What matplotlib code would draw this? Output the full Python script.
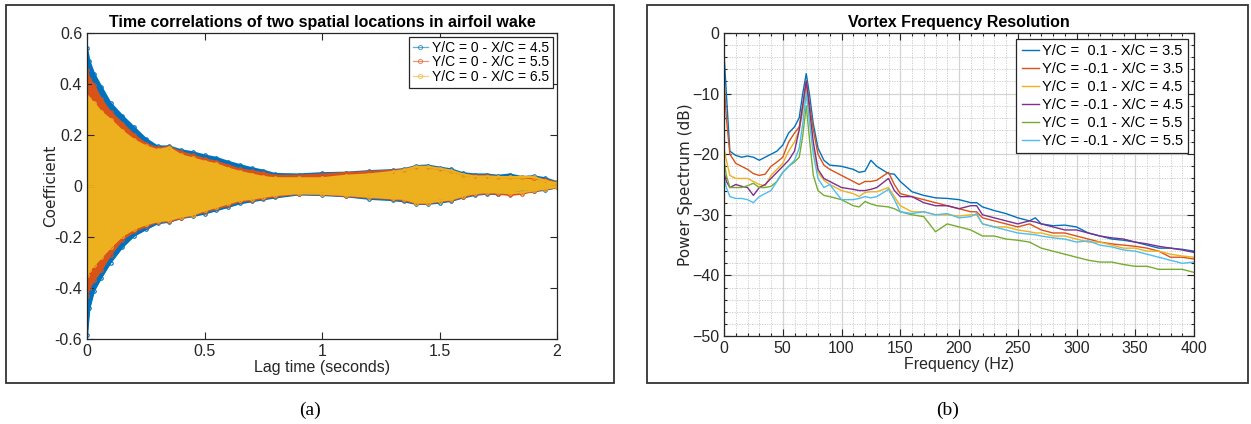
import numpy as np
import matplotlib
matplotlib.use("Agg")
import matplotlib.pyplot as plt
from matplotlib.patches import Rectangle
from matplotlib.ticker import MultipleLocator

NARROW = ["Liberation Sans Narrow", "Liberation Sans", "DejaVu Sans"]
WIDE = ["DejaVu Sans"]

# ---------------- (a) correlation envelopes ----------------
lag_t = [0, 0.01, 0.03, 0.06, 0.1, 0.15, 0.2, 0.25, 0.3, 0.35, 0.4, 0.45, 0.5,
         0.55, 0.6, 0.65, 0.7, 0.75, 0.8, 0.9, 1.0, 1.1, 1.2, 1.3, 1.35, 1.4,
         1.45, 1.5, 1.55, 1.6, 1.65, 1.7, 1.75, 1.8, 1.85, 1.9, 1.95, 2.0]

corr_labels = ["Y/C = 0 - X/C = 4.5", "Y/C = 0 - X/C = 5.5", "Y/C = 0 - X/C = 6.5"]

upper_45 = [0.54, 0.49, 0.44, 0.39, 0.325, 0.275, 0.23, 0.185, 0.155, 0.155, 0.14,
            0.132, 0.12, 0.11, 0.095, 0.082, 0.07, 0.06, 0.047, 0.045, 0.05, 0.052,
            0.058, 0.062, 0.066, 0.078, 0.08, 0.072, 0.065, 0.05, 0.045, 0.045, 0.04,
            0.045, 0.035, 0.038, 0.03, 0.015]
lower_45 = [-0.585, -0.48, -0.41, -0.36, -0.3, -0.24, -0.195, -0.17, -0.146, -0.14,
            -0.126, -0.118, -0.108, -0.095, -0.082, -0.068, -0.06, -0.052, -0.045,
            -0.033, -0.035, -0.04, -0.05, -0.055, -0.06, -0.07, -0.07, -0.065, -0.058,
            -0.045, -0.035, -0.03, -0.032, -0.03, -0.025, -0.02, -0.015, -0.005]

upper_55 = [0.455, 0.42, 0.395, 0.34, 0.29, 0.245, 0.2, 0.165, 0.148, 0.152, 0.132,
            0.12, 0.105, 0.095, 0.08, 0.065, 0.058, 0.05, 0.04, 0.04, 0.045, 0.05,
            0.055, 0.06, 0.064, 0.075, 0.075, 0.068, 0.06, 0.045, 0.04, 0.04, 0.035,
            0.035, 0.035, 0.03, 0.025, 0.012]
lower_55 = [-0.43, -0.4, -0.37, -0.33, -0.27, -0.21, -0.178, -0.158, -0.14, -0.138,
            -0.125, -0.115, -0.1, -0.088, -0.075, -0.06, -0.055, -0.048, -0.04, -0.03,
            -0.032, -0.038, -0.045, -0.05, -0.055, -0.068, -0.068, -0.06, -0.055,
            -0.042, -0.032, -0.028, -0.03, -0.035, -0.03, -0.02, -0.012, -0.005]

upper_65 = [0.35, 0.34, 0.325, 0.29, 0.26, 0.215, 0.18, 0.155, 0.14, 0.15, 0.12,
            0.108, 0.095, 0.085, 0.068, 0.055, 0.045, 0.035, 0.03, 0.03, 0.03, 0.04,
            0.045, 0.055, 0.062, 0.075, 0.075, 0.068, 0.06, 0.045, 0.037, 0.037,
            0.035, 0.035, 0.035, 0.035, 0.02, 0.01]
lower_65 = [-0.35, -0.33, -0.31, -0.28, -0.24, -0.195, -0.168, -0.15, -0.138, -0.133,
            -0.12, -0.112, -0.095, -0.082, -0.068, -0.055, -0.05, -0.042, -0.035,
            -0.028, -0.03, -0.035, -0.042, -0.048, -0.05, -0.065, -0.065, -0.058,
            -0.052, -0.038, -0.028, -0.024, -0.025, -0.028, -0.025, -0.017, -0.01,
            -0.003]

corr_colors = ["#0072BD", "#D95319", "#EDB120"]

# ---------------- (b) power spectra ----------------
freq = [0, 2, 5, 10, 15, 20, 25, 30, 35, 40, 45, 50, 55, 60, 64, 67, 70, 73, 76,
        80, 85, 90, 100, 110, 115, 120, 125, 130, 140, 145, 150, 160, 170, 180,
        190, 200, 210, 215, 220, 230, 240, 250, 260, 265, 270, 280, 290, 300, 310,
        320, 330, 340, 350, 360, 370, 380, 390, 400]

spec_labels = ["Y/C =  0.1 - X/C = 3.5", "Y/C = -0.1 - X/C = 3.5",
               "Y/C =  0.1 - X/C = 4.5", "Y/C = -0.1 - X/C = 4.5",
               "Y/C =  0.1 - X/C = 5.5", "Y/C = -0.1 - X/C = 5.5"]

psd_p01_35 = [-3.4, -10, -19.5, -20.2, -20.5, -20.3, -20.5, -21, -20.5, -20, -19.5,
              -18.5, -16.5, -15.5, -14, -10, -6.7, -10.5, -15, -19, -21, -21.8, -22,
              -22.5, -23, -22.8, -21, -22, -23.2, -23.3, -24.5, -26.2, -26.8, -27.2,
              -27.3, -27.5, -28, -28, -28.7, -29.3, -29.8, -30.5, -31, -30.5, -31.5,
              -31.8, -31.7, -32, -33, -33.5, -34, -34.2, -34.5, -35, -35.5, -35.5,
              -35.7, -36]
psd_m01_35 = [-8, -14, -20, -21.5, -22, -22.5, -23.2, -23.5, -23.3, -22, -21.3,
              -20.5, -18, -16.5, -15.5, -12, -7.8, -12, -16, -20, -21.8, -22.5, -23.5,
              -24.5, -25, -24.5, -24.5, -24.3, -23, -25, -26.5, -27, -27.5, -28, -28.5,
              -29, -29.5, -29.5, -30.5, -31, -31.5, -32, -31.5, -32, -32.5, -33, -33,
              -33.5, -34, -34.5, -34.8, -35, -35.2, -35.5, -36, -37, -37, -37.3]
psd_p01_45 = [-19, -21, -23.5, -24, -24, -24, -24.5, -25, -25.2, -23.5, -22.5, -21.5,
              -19.5, -18, -16, -13, -9, -14, -19, -23, -24.3, -25, -26, -26.5, -27,
              -26.3, -26.2, -26.2, -25.5, -27, -28.5, -29.5, -29.5, -30, -30, -30.2,
              -30, -30, -31.5, -32, -32, -32.5, -32.8, -33, -33, -33.5, -33.5, -34,
              -34.5, -34.5, -35, -35.5, -35.5, -36, -36, -36.5, -36.8, -37]
psd_m01_45 = [-23, -24.5, -25.5, -25, -25.3, -25.5, -26.8, -25.5, -25, -24, -23,
              -22, -21, -19.5, -16, -12, -8, -13, -18, -22.5, -24, -24.5, -25.5, -25.8,
              -26, -26, -25.8, -25.5, -24, -26, -27, -27, -28, -28.5, -28.5, -29,
              -28.5, -28.5, -30, -30.5, -31, -31.5, -31, -31.2, -31.5, -32, -32.5,
              -32.5, -33, -33.5, -33.8, -34, -34.5, -34.8, -35.2, -35.5, -35.8, -36.2]
psd_p01_55 = [-21, -23.5, -25.5, -25.5, -25.5, -25.2, -24.8, -25.5, -25.5, -25.3,
              -24.5, -23, -22, -21.3, -20.5, -17, -12, -18, -23.5, -26, -26.8, -27,
              -27.5, -28.5, -28.7, -27.8, -28.2, -28.5, -28.7, -29, -29.5, -30, -30.3,
              -32.8, -31.5, -32, -32.5, -33, -33.5, -33.5, -34, -34.2, -34.5, -35,
              -35.5, -36, -36.5, -37, -37.5, -37.8, -37.8, -38.2, -38.5, -38.5, -39,
              -39, -39, -39.5]
psd_m01_55 = [-24, -25.5, -27, -27.3, -27.3, -27.5, -28, -27, -26.5, -26, -24.5,
              -23, -22, -21, -19, -15, -10, -15, -20, -24, -25.5, -25, -27.5, -27.5,
              -27.3, -27, -27.2, -27, -25.8, -27.5, -29.5, -29.8, -29.5, -30, -29.8,
              -30.5, -30.3, -29.8, -31.5, -32, -32.5, -33, -33.2, -33.3, -33.5, -33.8,
              -34, -34.5, -34.3, -35, -35.3, -35.8, -36, -36.5, -37, -37.5, -38, -37.8]

spec_series = [psd_p01_35, psd_m01_35, psd_p01_45, psd_m01_45, psd_p01_55, psd_m01_55]
spec_colors = ["#0072BD", "#D95319", "#EDB120", "#7E2F8E", "#77AC30", "#4DBEEE"]

# ---------------- figure ----------------
W, H = 1251, 424
fig = plt.figure(figsize=(W / 100, H / 100), dpi=100)
fig.patch.set_facecolor("white")

# panel frames
for x0, x1 in [(6, 614), (647, 1248)]:
    fig.patches.append(Rectangle((x0 / W, (H - 383) / H), (x1 - x0) / W, 378 / H,
                                 transform=fig.transFigure, fill=False,
                                 edgecolor="#333333", lw=1.3))


def matlab_axes(ax):
    for s in ax.spines.values():
        s.set_color("#262626")
        s.set_linewidth(0.9)
    ax.tick_params(which="both", direction="in", top=True, right=True,
                   colors="#262626", labelsize=11.5, length=5, width=0.8)
    for lab in ax.get_xticklabels() + ax.get_yticklabels():
        lab.set_fontfamily(NARROW)


# (a)
ax1 = fig.add_axes([87 / W, (H - 339) / H, 470 / W, 306 / H])
uppers = [upper_45, upper_55, upper_65]
lowers = [lower_45, lower_55, lower_65]
for up, lo, c, lab in zip(uppers, lowers, corr_colors, corr_labels):
    ax1.fill_between(lag_t, lo, up, color=c, lw=0)
    ax1.plot(lag_t, up, color=c, lw=1.6, marker="o", ms=2.5, mfc="none", mew=0.8)
    ax1.plot(lag_t, lo, color=c, lw=1.6, marker="o", ms=2.5, mfc="none", mew=0.8)
    ax1.plot([], [], color=c, lw=0.9, alpha=0.6, marker="o", ms=3, mfc="none",
             mew=0.8, markevery=[1], label=lab)
ax1.axhline(0, color="#EDB120", lw=0.8)
ax1.set_xlim(0, 2)
ax1.set_ylim(-0.6, 0.6)
ax1.set_xticks([0, 0.5, 1, 1.5, 2])
ax1.set_xticklabels(["0", "0.5", "1", "1.5", "2"])
ax1.set_yticks([-0.6, -0.4, -0.2, 0, 0.2, 0.4, 0.6])
ax1.set_yticklabels(["-0.6", "-0.4", "-0.2", "0", "0.2", "0.4", "0.6"])
matlab_axes(ax1)
ax1.set_xlabel("Lag time (seconds)", fontsize=11.5, family=NARROW, labelpad=1,
               color="#262626")
ax1.set_ylabel("Coefficient", fontsize=11, family=WIDE, labelpad=-3, color="#262626")
ax1.set_title("Time correlations of two spatial locations in airfoil wake",
              fontsize=11.5, fontweight="bold", family=NARROW, pad=4)
leg1 = ax1.legend(loc="upper right", prop={"family": NARROW, "size": 10},
                  frameon=True, fancybox=False, framealpha=1, edgecolor="#262626",
                  handlelength=1.1, handletextpad=0.3, borderpad=0.25,
                  labelspacing=0.05, borderaxespad=0.3)
leg1.get_frame().set_linewidth(0.9)

# (b)
ax2 = fig.add_axes([724 / W, (H - 336) / H, 470 / W, 303 / H])
for vals, c, lab in zip(spec_series, spec_colors, spec_labels):
    ax2.plot(freq, vals, color=c, lw=1.0, label=lab)
ax2.set_xlim(0, 400)
ax2.set_ylim(-50, 0)
ax2.xaxis.set_major_locator(MultipleLocator(50))
ax2.yaxis.set_major_locator(MultipleLocator(10))
ax2.xaxis.set_minor_locator(MultipleLocator(10))
ax2.yaxis.set_minor_locator(MultipleLocator(2))
ax2.grid(which="major", color="#d4d4d4", lw=0.9)
ax2.grid(which="minor", color="#c8c8c8", lw=0.6, ls=(0, (1.5, 1.5)))
ax2.set_axisbelow(True)
matlab_axes(ax2)
ax2.tick_params(which="minor", length=2.5)
ax2.set_xlabel("Frequency (Hz)", fontsize=11.5, family=NARROW, labelpad=1,
               color="#262626")
ax2.set_ylabel("Power Spectrum (dB)", fontsize=11, family=WIDE, labelpad=-1,
               color="#262626")
ax2.set_title("Vortex Frequency Resolution", fontsize=11.5, fontweight="bold",
              family=NARROW, pad=4)
leg2 = ax2.legend(loc="upper right", prop={"family": NARROW, "size": 10.5},
                  frameon=True, fancybox=False, framealpha=1, edgecolor="#262626",
                  handlelength=1.2, handletextpad=0.2, borderpad=0.35,
                  labelspacing=0.28, borderaxespad=0.4)
leg2.get_frame().set_linewidth(0.9)

# captions
fig.text(310 / W, 1 - 410 / H, "(a)", ha="center", va="center", fontsize=14,
         family=["Liberation Serif", "DejaVu Serif"])
fig.text(948 / W, 1 - 410 / H, "(b)", ha="center", va="center", fontsize=14,
         family=["Liberation Serif", "DejaVu Serif"])

fig.savefig("out.png", dpi=100, facecolor="white")
